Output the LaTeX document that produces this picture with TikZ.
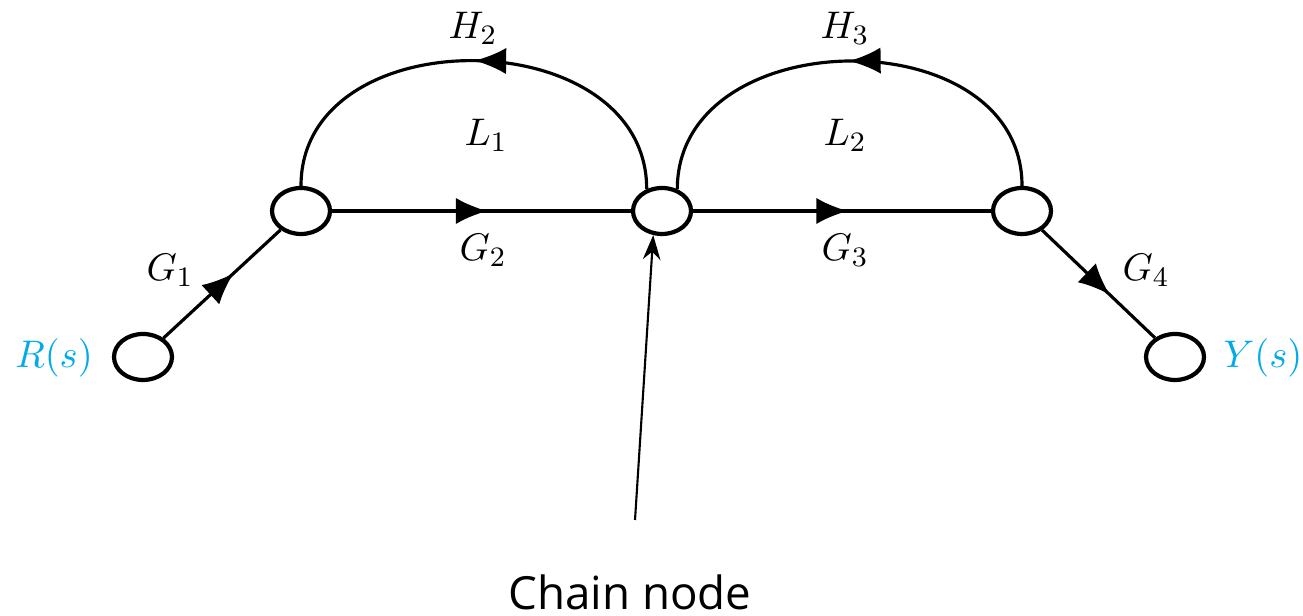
\documentclass[tikz,border=0pt]{standalone}
\usepackage{fontspec}
\newfontfamily\notefont{Open Sans}
\usetikzlibrary{shapes.geometric, arrows.meta, decorations.markings}
\definecolor{sigblue}{RGB}{0, 170, 235}
\tikzset{
    sfnode/.style={
        ellipse, draw, line width=1.2pt,
        minimum width=0.58cm, minimum height=0.46cm, inner sep=0pt
    },
    branch/.style={
        line width=0.9pt, postaction={decorate},
        decoration={markings, mark=at position #1 with {\arrow{Latex[length=9pt,width=7.5pt]}}}
    },
    branch/.default=0.55,
    gain/.style={font=\fontsize{11}{13}\selectfont},
    signal/.style={font=\fontsize{11}{13}\selectfont, text=sigblue},
    pointer/.style={-{Stealth[length=7pt,width=5pt]}, line width=0.6pt},
    note/.style={font=\notefont\fontsize{13}{15}\selectfont}
}
\begin{document}
\begin{tikzpicture}
    \useasboundingbox (0,0) rectangle (13.03,6.16);

    % signal flow nodes
    \node[sfnode] (rin) at (1.43,2.59) {};
    \node[sfnode] (n1) at (3.01,4.05) {};
    \node[sfnode] (n2) at (6.62,4.05) {};
    \node[sfnode] (n3) at (10.22,4.05) {};
    \node[sfnode] (yout) at (11.75,2.59) {};

    % forward branches
    \draw[branch=0.6] (rin) -- (n1);
    \draw[branch=0.52] (n1) -- (n2);
    \draw[branch=0.52] (n2) -- (n3);
    \draw[branch=0.6] (n3) -- (yout);

    % feedback loops
    \draw[branch=0.5] (n2.125) to[out=90, in=90, looseness=1.25] (n1.north);
    \draw[branch=0.5] (n3.north) to[out=90, in=90, looseness=1.25] (n2.55);

    % labels
    \node[signal] (rlab) at (0.54,2.58) {$R(s)$};
    \node[signal] (ylab) at (12.63,2.58) {$Y(s)$};
    \node[gain] (g1) at (1.70,3.46) {$G_1$};
    \node[gain] (g2) at (4.83,3.66) {$G_2$};
    \node[gain] (g3) at (8.45,3.66) {$G_3$};
    \node[gain] (g4) at (11.46,3.46) {$G_4$};
    \node[gain] (h2) at (4.73,5.88) {$H_2$};
    \node[gain] (h3) at (8.45,5.88) {$H_3$};
    \node[gain] (l1) at (4.86,4.81) {$L_1$};
    \node[gain] (l2) at (8.45,4.81) {$L_2$};

    % pointer to the chain node
    \coordinate (tail) at (6.35,0.96);
    \draw[pointer] (tail) -- (n2.250);
    \node[note] (chain) at (6.30,0.24) {Chain node};
\end{tikzpicture}
\end{document}
